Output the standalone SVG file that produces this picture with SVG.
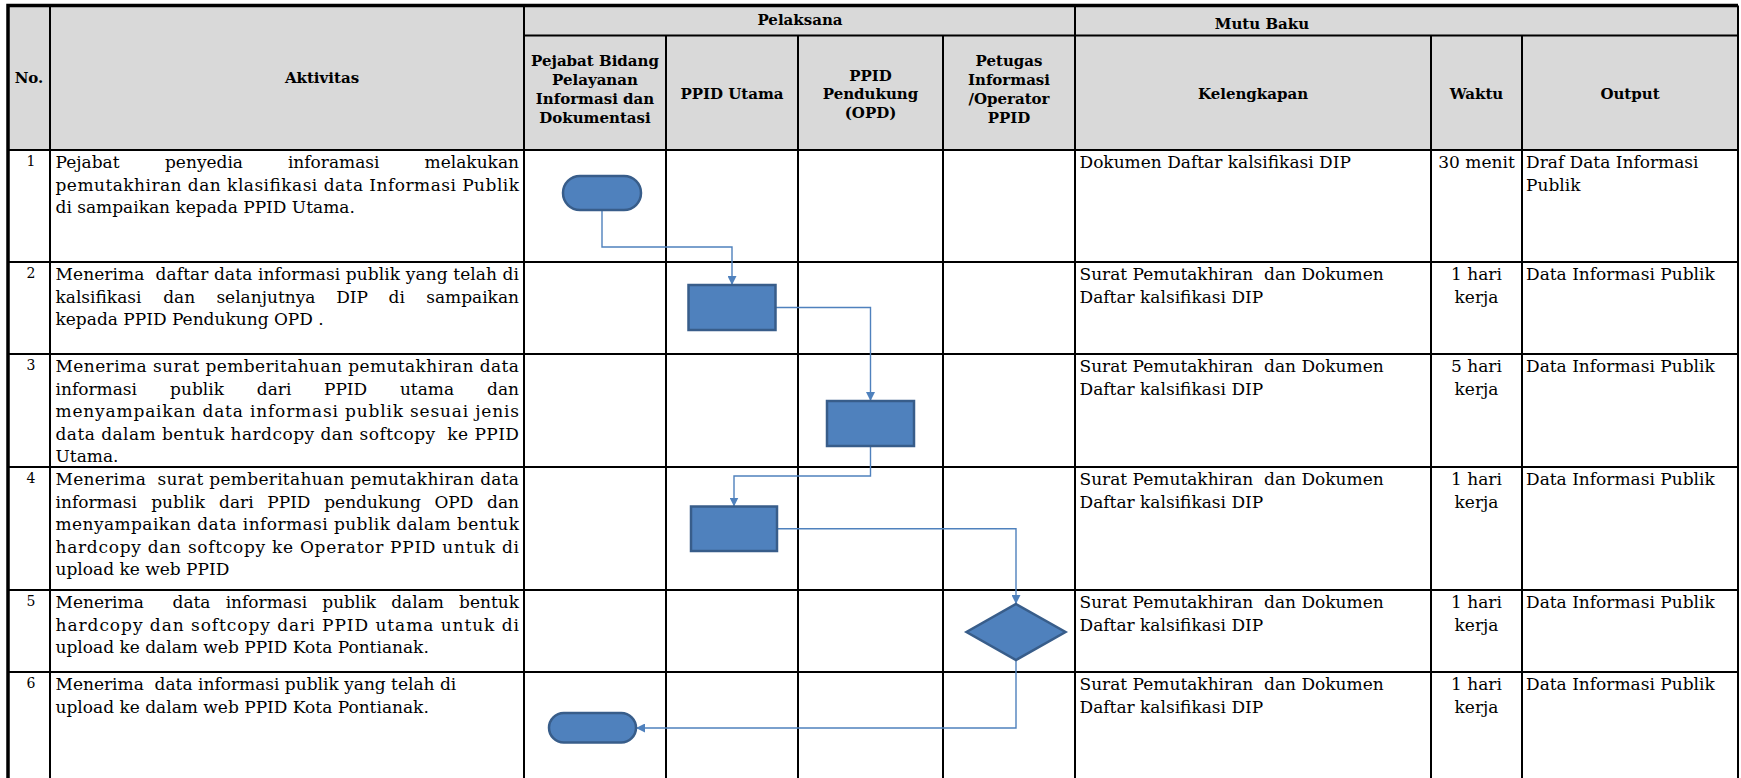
<svg xmlns="http://www.w3.org/2000/svg" width="1741" height="778" viewBox="0 0 1741 778">
<style>
.g{stroke:#000;stroke-width:2;fill:none}
.o{stroke:#000;stroke-width:3.5;fill:none}
.h{font-family:"DejaVu Serif","Liberation Serif",serif;font-weight:bold;font-size:15px;fill:#000;text-anchor:middle}
.t{font-family:"DejaVu Serif","Liberation Serif",serif;font-size:17px;fill:#000}
.n{font-family:"DejaVu Serif","Liberation Serif",serif;font-size:14px;fill:#000;text-anchor:middle}
.m{text-anchor:middle}
.e{text-anchor:end}
.shape{fill:#4F81BD;stroke:#385D8A;stroke-width:2.5}
.conn{fill:none;stroke:#4F81BD;stroke-width:1.4}
</style>
<defs>
<marker id="arr" markerUnits="userSpaceOnUse" markerWidth="9" markerHeight="9" refX="9" refY="4.5" orient="auto">
<path d="M0,0 L9,4.5 L0,9 z" fill="#4F81BD"/>
</marker>
</defs>
<rect width="1741" height="778" fill="#fff"/>
<g id="table">
<rect x="8" y="5.5" width="1730" height="144.5" fill="#D9D9D9"/>
<path class="g" d="M50,5.5V778M524,5.5V778M1075,5.5V778M666,35.5V778M798,35.5V778M943,35.5V778M1431,35.5V778M1522,35.5V778M1738,5.5V778"/>
<path class="g" d="M524,35.5H1738M8,262H1738M8,354H1738M8,467H1738M8,590H1738M8,672H1738"/>
<path class="g" stroke-width="2.5" d="M8,150H1738"/>
<path class="o" d="M8,778V5.5H1738"/>
</g>
<g id="header">
<text class="h" x="29" y="83">No.</text>
<text class="h" x="322" y="83">Aktivitas</text>
<text class="h" x="800" y="25">Pelaksana</text>
<text class="h" x="1262" y="29">Mutu Baku</text>
<text class="h" x="595" y="66">Pejabat Bidang</text>
<text class="h" x="595" y="85">Pelayanan</text>
<text class="h" x="595" y="104">Informasi dan</text>
<text class="h" x="595" y="123">Dokumentasi</text>
<text class="h" x="732" y="99">PPID Utama</text>
<text class="h" x="870.5" y="80.5">PPID</text>
<text class="h" x="870.5" y="99">Pendukung</text>
<text class="h" x="870.5" y="118">(OPD)</text>
<text class="h" x="1009" y="66">Petugas</text>
<text class="h" x="1009" y="85">Informasi</text>
<text class="h" x="1009" y="104">/Operator</text>
<text class="h" x="1009" y="123">PPID</text>
<text class="h" x="1253" y="99">Kelengkapan</text>
<text class="h" x="1476.5" y="99">Waktu</text>
<text class="h" x="1630" y="99">Output</text>
</g>
<g id="numbers">
<text class="n" x="31" y="166">1</text>
<text class="n" x="31" y="278">2</text>
<text class="n" x="31" y="370">3</text>
<text class="n" x="31" y="483">4</text>
<text class="n" x="31" y="606">5</text>
<text class="n" x="31" y="688">6</text>
</g>
<g id="aktivitas">
<text class="t" x="55.5" y="168">Pejabat</text>
<text class="t m" x="204" y="168">penyedia</text>
<text class="t m" x="333.7" y="168">inforamasi</text>
<text class="t e" x="519" y="168">melakukan</text>
<text class="t" x="55.5" y="190.5" textLength="463.5" lengthAdjust="spacing">pemutakhiran dan klasifikasi data Informasi Publik</text>
<text class="t" x="55.5" y="213">di sampaikan kepada PPID Utama.</text>

<text class="t" x="55.5" y="280" textLength="463.5" lengthAdjust="spacing" xml:space="preserve">Menerima  daftar data informasi publik yang telah di</text>
<text class="t" x="55.5" y="302.5">kalsifikasi</text>
<text class="t m" x="179.2" y="302.5">dan</text>
<text class="t m" x="265.9" y="302.5">selanjutnya</text>
<text class="t m" x="352.1" y="302.5">DIP</text>
<text class="t m" x="396.7" y="302.5">di</text>
<text class="t e" x="519" y="302.5">sampaikan</text>
<text class="t" x="55.5" y="325">kepada PPID Pendukung OPD .</text>

<text class="t" x="55.5" y="372" textLength="463.5" lengthAdjust="spacing">Menerima surat pemberitahuan pemutakhiran data</text>
<text class="t" x="55.5" y="394.5">informasi</text>
<text class="t m" x="197" y="394.5">publik</text>
<text class="t m" x="274.1" y="394.5">dari</text>
<text class="t m" x="345.6" y="394.5">PPID</text>
<text class="t m" x="427" y="394.5">utama</text>
<text class="t e" x="519" y="394.5">dan</text>
<text class="t" x="55.5" y="417" textLength="463.5" lengthAdjust="spacing">menyampaikan data informasi publik sesuai jenis</text>
<text class="t" x="55.5" y="439.5" textLength="463.5" lengthAdjust="spacing" xml:space="preserve">data dalam bentuk hardcopy dan softcopy  ke PPID</text>
<text class="t" x="55.5" y="462">Utama.</text>

<text class="t" x="55.5" y="485" textLength="463.5" lengthAdjust="spacing" xml:space="preserve">Menerima  surat pemberitahuan pemutakhiran data</text>
<text class="t" x="55.5" y="507.5">informasi</text>
<text class="t m" x="178.1" y="507.5">publik</text>
<text class="t m" x="236.3" y="507.5">dari</text>
<text class="t m" x="288.9" y="507.5">PPID</text>
<text class="t m" x="372.6" y="507.5">pendukung</text>
<text class="t m" x="453.9" y="507.5">OPD</text>
<text class="t e" x="519" y="507.5">dan</text>
<text class="t" x="55.5" y="530" textLength="463.5" lengthAdjust="spacing">menyampaikan data informasi publik dalam bentuk</text>
<text class="t" x="55.5" y="552.5" textLength="463.5" lengthAdjust="spacing">hardcopy dan softcopy ke Operator PPID untuk di</text>
<text class="t" x="55.5" y="575">upload ke web PPID</text>

<text class="t" x="55.5" y="608">Menerima</text>
<text class="t m" x="191.5" y="608">data</text>
<text class="t m" x="266.4" y="608">informasi</text>
<text class="t m" x="349.2" y="608">publik</text>
<text class="t m" x="417.6" y="608">dalam</text>
<text class="t e" x="519" y="608">bentuk</text>
<text class="t" x="55.5" y="630.5" textLength="463.5" lengthAdjust="spacing">hardcopy dan softcopy dari PPID utama untuk di</text>
<text class="t" x="55.5" y="653">upload ke dalam web PPID Kota Pontianak.</text>

<text class="t" x="55.5" y="690" xml:space="preserve">Menerima  data informasi publik yang telah di</text>
<text class="t" x="55.5" y="712.5">upload ke dalam web PPID Kota Pontianak.</text>
</g>
<g id="kelengkapan">
<text class="t" x="1079.5" y="168">Dokumen Daftar kalsifikasi DIP</text>
<text class="t" x="1079.5" y="280" xml:space="preserve">Surat Pemutakhiran  dan Dokumen</text>
<text class="t" x="1079.5" y="302.5">Daftar kalsifikasi DIP</text>
<text class="t" x="1079.5" y="372" xml:space="preserve">Surat Pemutakhiran  dan Dokumen</text>
<text class="t" x="1079.5" y="394.5">Daftar kalsifikasi DIP</text>
<text class="t" x="1079.5" y="485" xml:space="preserve">Surat Pemutakhiran  dan Dokumen</text>
<text class="t" x="1079.5" y="507.5">Daftar kalsifikasi DIP</text>
<text class="t" x="1079.5" y="608" xml:space="preserve">Surat Pemutakhiran  dan Dokumen</text>
<text class="t" x="1079.5" y="630.5">Daftar kalsifikasi DIP</text>
<text class="t" x="1079.5" y="690" xml:space="preserve">Surat Pemutakhiran  dan Dokumen</text>
<text class="t" x="1079.5" y="712.5">Daftar kalsifikasi DIP</text>
</g>
<g id="waktu">
<text class="t m" x="1476.5" y="168">30 menit</text>
<text class="t m" x="1476.5" y="280">1 hari</text>
<text class="t m" x="1476.5" y="302.5">kerja</text>
<text class="t m" x="1476.5" y="372">5 hari</text>
<text class="t m" x="1476.5" y="394.5">kerja</text>
<text class="t m" x="1476.5" y="485">1 hari</text>
<text class="t m" x="1476.5" y="507.5">kerja</text>
<text class="t m" x="1476.5" y="608">1 hari</text>
<text class="t m" x="1476.5" y="630.5">kerja</text>
<text class="t m" x="1476.5" y="690">1 hari</text>
<text class="t m" x="1476.5" y="712.5">kerja</text>
</g>
<g id="output">
<text class="t" x="1526" y="168">Draf Data Informasi</text>
<text class="t" x="1526" y="190.5">Publik</text>
<text class="t" x="1526" y="280">Data Informasi Publik</text>
<text class="t" x="1526" y="372">Data Informasi Publik</text>
<text class="t" x="1526" y="485">Data Informasi Publik</text>
<text class="t" x="1526" y="608">Data Informasi Publik</text>
<text class="t" x="1526" y="690">Data Informasi Publik</text>
</g>
<g id="connectors">
<path class="conn" marker-end="url(#arr)" d="M602,210V247H732V285"/>
<path class="conn" marker-end="url(#arr)" d="M775.5,307.5H870.5V401"/>
<path class="conn" marker-end="url(#arr)" d="M870.5,446V476H734V506.5"/>
<path class="conn" marker-end="url(#arr)" d="M777,528.75H1016V604"/>
<path class="conn" marker-end="url(#arr)" d="M1016,660V728H636"/>
</g>
<g id="node-start"><rect class="shape" x="563" y="176" width="78" height="34" rx="17"/></g>
<g id="node-step2"><rect class="shape" x="688.5" y="285" width="87" height="45"/></g>
<g id="node-step3"><rect class="shape" x="827" y="401" width="87" height="45"/></g>
<g id="node-step4"><rect class="shape" x="691" y="506.5" width="86" height="44.5"/></g>
<g id="node-decision"><polygon class="shape" points="1016,604 1065.5,632 1016,660 966.5,632"/></g>
<g id="node-end"><rect class="shape" x="549" y="713" width="87" height="29.5" rx="14.75"/></g>
</svg>
